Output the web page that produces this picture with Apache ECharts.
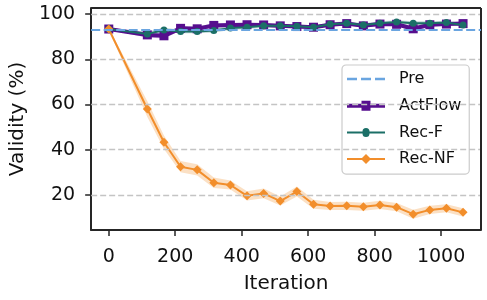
<!DOCTYPE html>
<html>
<head>
    <meta charset="UTF-8">
    <title>Validity vs Iteration</title>
    <script src="https://cdn.jsdelivr.net/npm/echarts@6/dist/echarts.min.js"></script>
</head>
<body style="margin:0">
    <div id="main" style="width: 487px;height:300px;"></div>
    <script type="text/javascript">
        // data
        var iterations = [0, 116, 166, 216, 266, 316, 366, 416, 466, 516, 566, 616, 666, 716, 766, 816, 866, 916, 966, 1016, 1066];
        var preValue = 93.3;
        var actFlow = [93.4, 90.8, 90.4, 93.7, 93.5, 95.0, 95.2, 95.3, 95.2, 94.8, 94.5, 94.2, 95.3, 95.8, 94.8, 95.6, 95.5, 93.5, 95.3, 95.6, 95.8];
        var actFlowStd = [0.5, 1.2, 1.2, 1.0, 1.0, 1.0, 0.8, 0.8, 0.8, 0.8, 0.8, 0.8, 0.8, 0.8, 0.8, 0.8, 0.8, 1.0, 0.8, 0.8, 0.8];
        var recF = [93.4, 91.2, 93.0, 92.3, 92.3, 92.7, 93.8, 94.2, 94.8, 94.8, 94.6, 94.2, 95.5, 96.0, 95.2, 96.0, 96.5, 96.0, 96.0, 96.3, 95.2];
        var recFStd = [0.5, 1.0, 1.0, 0.8, 0.8, 0.8, 0.8, 0.8, 0.8, 0.8, 0.8, 0.8, 0.8, 0.8, 0.8, 0.8, 0.8, 0.8, 0.8, 0.8, 0.8];
        var recNF = [93.4, 58.0, 43.3, 32.5, 31.1, 25.4, 24.4, 19.6, 20.7, 17.3, 21.5, 15.9, 15.1, 15.2, 14.8, 15.6, 14.6, 11.5, 13.4, 14.1, 12.3];
        var recNFStd = [0.5, 3.5, 3.0, 2.5, 2.5, 2.3, 2.0, 2.0, 2.2, 2.0, 2.2, 2.0, 1.8, 1.8, 1.8, 1.8, 1.8, 2.0, 1.8, 1.8, 1.8];
        var xTicks = [0, 200, 400, 600, 800, 1000];
        var yTicks = [20, 40, 60, 80, 100];

        var font = 'DejaVu Sans';
        var colors = {pre: '#6aa5e0', act: '#560e8e', recF: '#1b6f67', recNF: '#f28e2b'};

        // legend icons: line + marker, 38x10
        var icons = {
            pre: 'path://M0,3.8h10v2.4h-10z M14,3.8h10v2.4h-10z M28,3.8h10v2.4h-10z M0,0h0.01v0.01h-0.01z M0,10h0.01v-0.01h-0.01z',
            act: 'path://M0,3h14.5v-3h9v3h14.5v4h-14.5v3h-9v-3h-14.5z',
            recF: 'path://M0,4h15.5a3.5,3.5 0 0 1 7,0h15.5v2h-15.5a3.5,3.5 0 0 1 -7,0h-15.5z M0,0h0.01v0.01h-0.01z M0,10h0.01v-0.01h-0.01z',
            recNF: 'path://M0,4h15l4,-4l4,4h15v2h-15l-4,4l-4,-4h-15z'
        };

        function pairs(ys) {
            return iterations.map(function (x, i) { return [x, ys[i]]; });
        }

        function solid(c) {
            return {color: c, borderColor: c, borderWidth: 0, opacity: 1};
        }

        // shaded band (mean +- std) drawn as one polygon through the axis scales
        function band(name, mean, std, color) {
            return {
                type: 'custom',
                name: name + ' band',
                silent: true,
                z: 1,
                data: iterations.map(function (x, i) { return [x, mean[i]]; }),
                encode: {x: 0, y: 1},
                renderItem: function (params, api) {
                    if (params.dataIndex !== 0) return;
                    var top = [], bot = [];
                    for (var i = 0; i < iterations.length; i++) {
                        top.push(api.coord([iterations[i], mean[i] + std[i]]));
                        bot.unshift(api.coord([iterations[i], mean[i] - std[i]]));
                    }
                    return {
                        type: 'polygon',
                        shape: {points: top.concat(bot)},
                        style: {fill: color, opacity: 0.28}
                    };
                }
            };
        }

        var myChart = echarts.init(document.getElementById('main'));

        var option = {
            animation: false,
            textStyle: {fontFamily: font},
            grid: {left: 89, top: 8, right: 6, bottom: 70, show: false},
            xAxis: {
                type: 'value',
                min: -53,
                max: 1120,
                name: 'Iteration',
                nameLocation: 'middle',
                nameGap: 44,
                nameTextStyle: {fontSize: 20, color: '#111', fontFamily: font},
                axisLine: {onZero: false, lineStyle: {color: '#262626', width: 2}},
                axisTick: {show: true, length: 6, customValues: xTicks, lineStyle: {color: '#262626', width: 1.5}},
                axisLabel: {
                    customValues: xTicks, fontSize: 19, color: '#111', margin: 18, fontFamily: font,
                    formatter: function (v) { return String(v); }
                },
                splitLine: {show: false}
            },
            yAxis: {
                type: 'value',
                min: 4.5,
                max: 102.7,
                name: 'Validity (%)',
                nameLocation: 'middle',
                nameGap: 63,
                nameTextStyle: {fontSize: 20, color: '#111', fontFamily: font},
                axisLine: {show: true, onZero: false, lineStyle: {color: '#262626', width: 2}},
                axisTick: {show: true, length: 6, customValues: yTicks, lineStyle: {color: '#262626', width: 1.5}},
                axisLabel: {customValues: yTicks, fontSize: 19, color: '#111', margin: 16, fontFamily: font},
                splitLine: {show: false}
            },
            legend: {
                orient: 'vertical',
                left: 342,
                top: 65,
                data: [
                    {name: 'Pre', icon: icons.pre, itemStyle: solid(colors.pre)},
                    {name: 'ActFlow', icon: icons.act, itemStyle: solid(colors.act)},
                    {name: 'Rec-F', icon: icons.recF, itemStyle: solid(colors.recF)},
                    {name: 'Rec-NF', icon: icons.recNF, itemStyle: solid(colors.recNF)}
                ],
                backgroundColor: 'rgba(255,255,255,0.85)',
                borderColor: '#cccccc',
                borderWidth: 1.2,
                borderRadius: 4,
                padding: [5, 8, 6, 5],
                itemWidth: 38,
                itemHeight: 10,
                itemGap: 8.7,
                textStyle: {fontSize: 16, color: '#111', lineHeight: 18, fontFamily: font, padding: [0, 0, 0, 9]}
            },
            series: [
                {
                    // horizontal grid lines
                    type: 'line',
                    name: 'grid',
                    data: [],
                    silent: true,
                    z: 0,
                    markLine: {
                        silent: true,
                        symbol: 'none',
                        label: {show: false},
                        lineStyle: {color: '#c4c4c4', type: [6, 3], width: 1.3},
                        data: yTicks.map(function (v) { return {yAxis: v}; })
                    }
                },
                {
                    // top and right spines
                    type: 'line',
                    name: 'frame',
                    data: [],
                    silent: true,
                    z: 5,
                    markLine: {
                        silent: true,
                        symbol: 'none',
                        label: {show: false},
                        lineStyle: {color: '#262626', type: 'solid', width: 2},
                        data: [{yAxis: 102.7}, {xAxis: 1120}]
                    }
                },
                {
                    type: 'line',
                    name: 'Pre',
                    data: [],
                    color: colors.pre,
                    symbol: 'none',
                    lineStyle: {color: colors.pre, type: [9, 3.5], width: 2},
                    z: 2,
                    markLine: {
                        silent: true,
                        symbol: 'none',
                        label: {show: false},
                        lineStyle: {color: colors.pre, type: [9, 3.5], width: 2},
                        data: [{yAxis: preValue}]
                    }
                },
                band('ActFlow', actFlow, actFlowStd, colors.act),
                band('Rec-F', recF, recFStd, colors.recF),
                band('Rec-NF', recNF, recNFStd, colors.recNF),
                {
                    type: 'line',
                    name: 'ActFlow',
                    data: pairs(actFlow),
                    color: colors.act,
                    symbol: 'rect',
                    symbolSize: 9,
                    itemStyle: solid(colors.act),
                    lineStyle: {width: 4, color: colors.act},
                    z: 3
                },
                {
                    type: 'line',
                    name: 'Rec-F',
                    data: pairs(recF),
                    color: colors.recF,
                    symbol: 'circle',
                    symbolSize: 7,
                    itemStyle: solid(colors.recF),
                    lineStyle: {width: 2, color: colors.recF},
                    z: 4
                },
                {
                    type: 'line',
                    name: 'Rec-NF',
                    data: pairs(recNF),
                    color: colors.recNF,
                    symbol: 'diamond',
                    symbolSize: 9,
                    itemStyle: solid(colors.recNF),
                    lineStyle: {width: 2, color: colors.recNF},
                    z: 4
                }
            ]
        };

        myChart.setOption(option);
    </script>
</body>
</html>
